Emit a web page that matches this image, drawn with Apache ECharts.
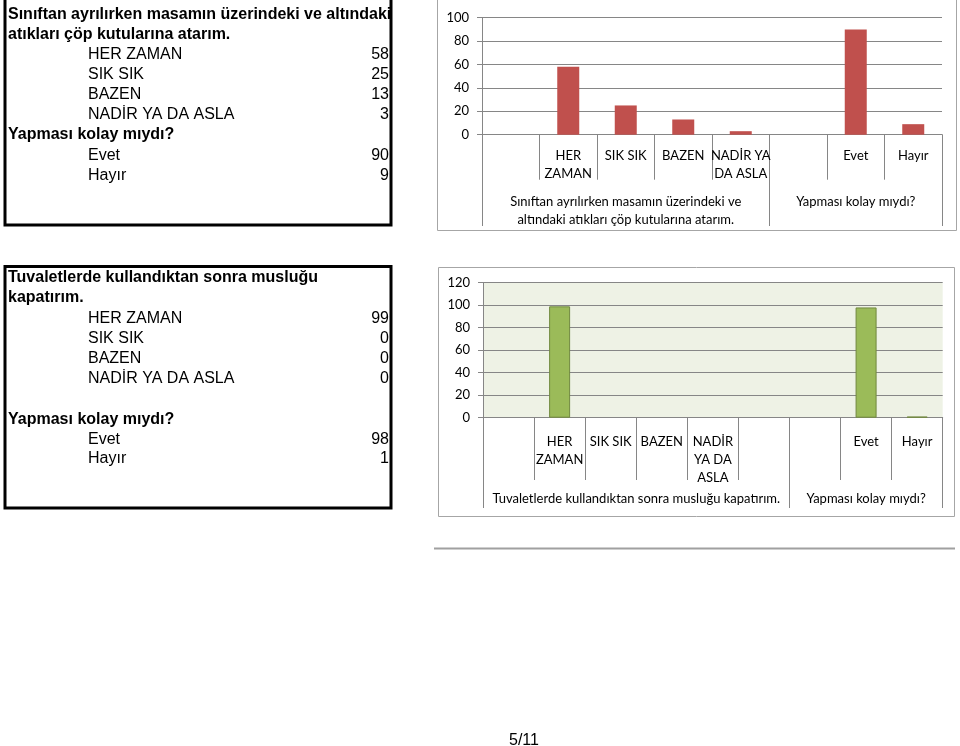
<!DOCTYPE html>
<html>
<head>
<meta charset="utf-8">
<script src="https://cdn.jsdelivr.net/npm/echarts@6/dist/echarts.min.js"></script>
<style>
html,body{margin:0;padding:0;background:#fff;}
#c{width:960px;height:746px;}
</style>
</head>
<body>
<div id="c"></div>
<script>
// ---------------- DATA ----------------
const answerLabels = ['HER ZAMAN', 'SIK SIK', 'BAZEN', 'NADİR YA DA ASLA'];
const easyLabels = ['Evet', 'Hayır'];
const easyQuestion = 'Yapması kolay mıydı?';

const q1TitleLines = ['Sınıftan ayrılırken masamın üzerindeki ve altındaki', 'atıkları çöp kutularına atarım.'];
const q1AxisTitle = 'Sınıftan ayrılırken masamın üzerindeki ve\naltındaki atıkları çöp kutularına atarım.';
const q1Values = [58, 25, 13, 3];
const q1EasyValues = [90, 9];
const q1AxisLabels = ['HER\nZAMAN', 'SIK SIK', 'BAZEN', 'NADİR YA\nDA ASLA'];

const q2TitleLines = ['Tuvaletlerde kullandıktan sonra musluğu', 'kapatırım.'];
const q2AxisTitle = 'Tuvaletlerde kullandıktan sonra musluğu kapatırım.';
const q2Values = [99, 0, 0, 0];
const q2EasyValues = [98, 1];
const q2AxisLabels = ['HER\nZAMAN', 'SIK SIK', 'BAZEN', 'NADİR\nYA DA\nASLA'];

const yTicksTop = {min: 0, max: 100, interval: 20};
const yTicksBottom = {min: 0, max: 120, interval: 20};

// ---------------- BUILD ----------------
const topCats = [''].concat(q1AxisLabels, [''], easyLabels);
const topVals = [null].concat(q1Values, [null], q1EasyValues);
const topGroupSizes = [1 + q1AxisLabels.length, 1 + easyLabels.length];
const topGroupNames = [q1AxisTitle, easyQuestion];
const botCats = [''].concat(q2AxisLabels, [''], [''], easyLabels);
const botVals = [null].concat(q2Values, [null], [null], q2EasyValues);
const botGroupSizes = [2 + q2AxisLabels.length, 1 + easyLabels.length];
const botGroupNames = [q2AxisTitle, easyQuestion];

function groupAxis(sizes, names) {
  const total = sizes.reduce((a, b) => a + b, 0);
  const n = 2 * total + 1;
  const labels = new Array(n).fill('');
  const bounds = new Set([0]);
  let start = 0;
  sizes.forEach((s, i) => {
    labels[start * 2 + s] = names[i];
    start += s;
    bounds.add(start * 2);
  });
  return {data: labels.map((_, i) => 'p' + i), labels, bounds};
}
const topG = groupAxis(topGroupSizes, topGroupNames);
const botG = groupAxis(botGroupSizes, botGroupNames);

const FONT = 'Lato';
const GRAY = '#868686';

function subAxis(gridIndex, cats, tickLen, margin) {
  return {
    type: 'category', gridIndex, data: cats, position: 'bottom', offset: 0,
    boundaryGap: true,
    axisLine: {show: true, lineStyle: {color: GRAY, width: 1}},
    axisTick: {show: true, interval: 0, length: tickLen, lineStyle: {color: GRAY, width: 1}},
    axisLabel: {interval: 0, margin, color: '#000', fontFamily: FONT, fontSize: 13, lineHeight: 18},
    splitLine: {show: false}
  };
}
function grpAxis(gridIndex, g, tickLen, margin) {
  return {
    type: 'category', gridIndex, data: g.data, position: 'bottom', offset: 0,
    boundaryGap: false,
    axisLine: {show: false},
    axisTick: {show: true, interval: (i) => g.bounds.has(i), length: tickLen, lineStyle: {color: GRAY, width: 1}},
    axisLabel: {interval: 0, margin, color: '#000', fontFamily: FONT, fontSize: 13, lineHeight: 18,
      formatter: (v, i) => g.labels[i]},
    splitLine: {show: false}
  };
}
function yAx(gridIndex, t) {
  return {
    type: 'value', gridIndex, min: t.min, max: t.max, interval: t.interval,
    axisLine: {show: true, lineStyle: {color: GRAY, width: 1}},
    axisTick: {show: true, length: 5, lineStyle: {color: GRAY}},
    axisLabel: {margin: 13, color: '#000', fontFamily: FONT, fontSize: 13},
    splitLine: {show: true, lineStyle: {color: GRAY, width: 1}}
  };
}

// ---------------- TEXT BOXES ----------------
const graphics = [];
function box(x, y, w, h, color, lw) {
  graphics.push({type: 'rect', shape: {x, y, width: w, height: h}, silent: true,
    style: {fill: 'none', stroke: color, lineWidth: lw}, z: 10});
}
function txt(text, x, y, opts) {
  opts = opts || {};
  graphics.push({type: 'text', silent: true, z: 11, style: {
    text, x, y, fill: '#000',
    fontFamily: '"Liberation Sans", Arial', fontSize: opts.size || 16, fontWeight: opts.bold ? 'bold' : 'normal',
    align: opts.align || 'left', textAlign: opts.align || 'left',
    verticalAlign: 'middle', textVerticalAlign: 'middle'
  }});
}
function table(titleLines, labels, values, easyVals, ys) {
  let k = 0;
  titleLines.forEach(l => txt(l, 8, ys[k++], {bold: true}));
  labels.forEach((l, i) => { txt(l, 88, ys[k], {}); txt(String(values[i]), 389, ys[k], {align: 'right'}); k++; });
  txt(easyQuestion, 8, ys[k++], {bold: true});
  easyLabels.forEach((l, i) => { txt(l, 88, ys[k], {}); txt(String(easyVals[i]), 389, ys[k], {align: 'right'}); k++; });
}
box(5, -5, 386, 230, '#000', 3);
table(q1TitleLines, answerLabels, q1Values, q1EasyValues, [15, 35, 55, 75, 95, 115, 135, 156, 176]);
box(5, 266.5, 386, 241.5, '#000', 3);
table(q2TitleLines, answerLabels, q2Values, q2EasyValues, [278, 298, 319, 339, 359, 379, 420, 440, 459]);

// chart frames
box(437.5, -5, 519, 235.5, '#A6A6A6', 1);
box(438.5, 267.5, 516, 249, '#A6A6A6', 1);
graphics.push({type: 'line', silent: true, shape: {x1: 434, y1: 548.5, x2: 955, y2: 548.5},
  style: {stroke: '#A0A0A0', lineWidth: 2}});
txt('5/11', 509, 741, {size: 16});

// ---------------- CHART ----------------
const chart = echarts.init(document.getElementById('c'), null, {renderer: 'canvas'});
chart.setOption({
  animation: false,
  backgroundColor: '#fff',
  grid: [
    {left: 482, right: 18, top: 17.7, height: 117, containLabel: false, show: false},
    {left: 483, right: 17.3, top: 282.7, height: 135, containLabel: false, show: true,
      backgroundColor: '#EEF2E5', borderWidth: 0}
  ],
  xAxis: [
    subAxis(0, topCats, 45, 12),
    grpAxis(0, topG, 91.3, 58.3),
    subAxis(1, botCats, 62.3, 15),
    grpAxis(1, botG, 90.3, 72.6)
  ],
  yAxis: [yAx(0, yTicksTop), yAx(1, yTicksBottom)],
  series: [
    {type: 'bar', xAxisIndex: 0, yAxisIndex: 0, data: topVals, barWidth: 22,
      itemStyle: {color: '#C0504D'}},
    {type: 'bar', xAxisIndex: 2, yAxisIndex: 1, barWidth: 21,
      data: botVals.map(v => v === 0 ? {value: v, itemStyle: {borderWidth: 0, opacity: 0}} : v),
      itemStyle: {color: '#9BBB59', borderColor: '#71893F', borderWidth: 1}}
  ],
  graphic: graphics
});
</script>
</body>
</html>
